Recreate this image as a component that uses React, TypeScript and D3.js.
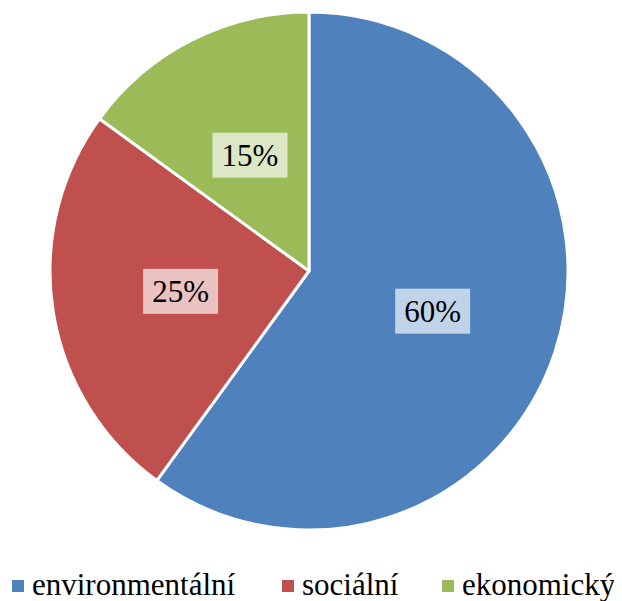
import React from 'react';
import * as d3 from 'd3';

const categories = ['environmentální', 'sociální', 'ekonomický'];
const values = [60, 25, 15];
const labels = ['60%', '25%', '15%'];
const colors = ['#4F81BD', '#C0504D', '#9BBB59'];

const cx = 301;
const cy = 263;
const radius = 259;

export default function App() {
  const pie = d3.pie<number>().sort(null).value(d => d);
  const arcs = pie(values);
  const arc = d3.arc<d3.PieArcDatum<number>>().innerRadius(0).outerRadius(radius);
  const labelArc = d3.arc<d3.PieArcDatum<number>>().innerRadius(130).outerRadius(130);
  const centroids = arcs.map(a => labelArc.centroid(a));

  // legend square x positions (svg sits at the 8px body margin)
  const legendX = [4, 274, 434];

  return (
    <svg width={614} height={593}>
      {arcs.map((a, i) => (
        <path key={'s' + i} transform={`translate(${cx},${cy})`} d={arc(a) || ''} fill={colors[i]} stroke="#fff" strokeWidth={3} strokeLinejoin="round" />
      ))}
      {centroids.map(([lx, ly], i) => (
        <rect key={'r' + i} x={cx + lx - 37.5} y={cy + ly - 22.5} width={75} height={45} fill="#fff" fillOpacity={0.65} />
      ))}
      {centroids.map(([lx, ly], i) => (
        <text key={'t' + i} x={cx + lx} y={cy + ly + 11} textAnchor="middle" style={{ fontFamily: '"Liberation Serif"', fontSize: 31 }}>{labels[i]}</text>
      ))}
      {categories.map((c, i) => (
        <rect key={'l' + i} x={legendX[i]} y={572} width={12} height={12} fill={colors[i]} />
      ))}
      {categories.map((c, i) => (
        <text key={c} x={legendX[i] + 20} y={587} style={{ fontFamily: '"Liberation Serif"', fontSize: 31 }}>{c}</text>
      ))}
    </svg>
  );
}
